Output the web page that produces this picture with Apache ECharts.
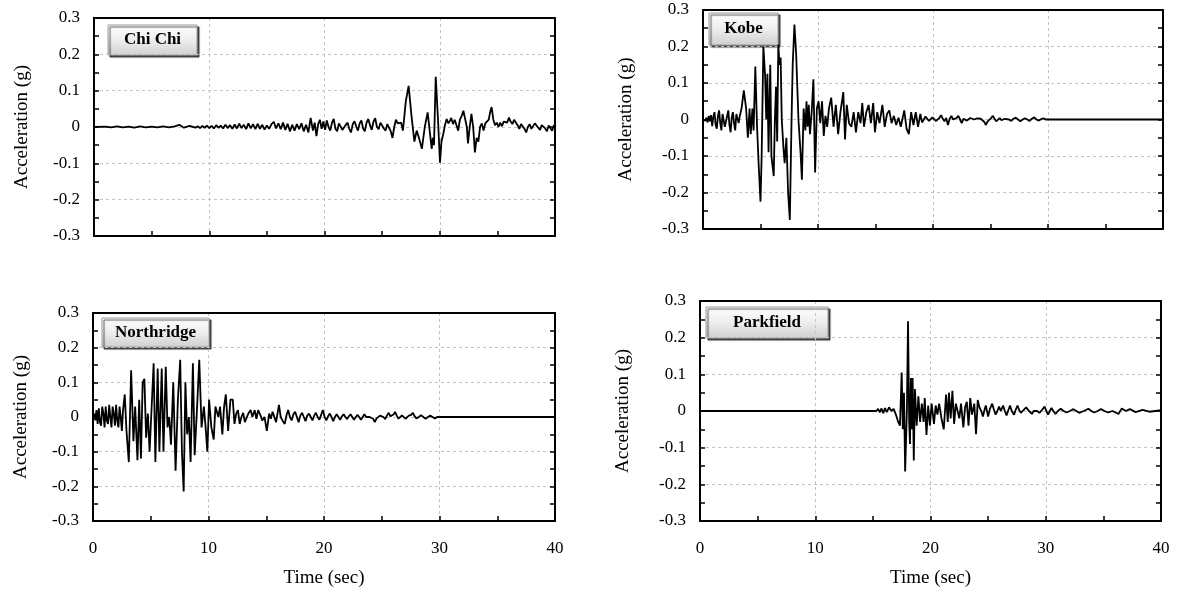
<!DOCTYPE html>
<html>
<head>
<meta charset="utf-8">
<script src="https://cdn.jsdelivr.net/npm/echarts@6/dist/echarts.min.js"></script>
<style>html,body{margin:0;padding:0;background:#fff}#c{width:1178px;height:593px}</style>
</head>
<body>
<div id="c"></div>
<script>
// ---------- DATA: [time (s), acceleration (g)] ----------
const titles = ['Chi Chi', 'Kobe', 'Northridge', 'Parkfield'];
const yTicks = [-0.3, -0.2, -0.1, 0, 0.1, 0.2, 0.3];
const xTicks = [0, 10, 20, 30, 40];

const chiChi = [[0,0],[1,0.001],[1.5,-0.001],[2,0.002],[2.5,-0.001],[3,0.001],[3.5,-0.002],[4,0.002],[4.5,-0.001],[5,0.001],[5.5,-0.001],[6,0.002],[6.5,-0.001],[7,0.002],[7.4,0.006],[7.8,-0.002],[8.3,0.003],[8.8,-0.002],
[9.0,0.002],[9.2,-0.003],[9.4,0.003],[9.6,-0.002],[9.8,0.004],[10.0,-0.003],[10.2,0.003],[10.4,-0.004],[10.6,0.005],[10.8,-0.002],[11.0,0.004],[11.2,-0.004],[11.4,0.006],[11.6,-0.003],[11.8,0.005],[12.0,-0.005],[12.2,0.007],[12.4,-0.004],[12.6,0.009],[12.8,-0.003],[13.0,0.006],[13.2,-0.006],[13.4,0.01],[13.6,-0.004],[13.8,0.008],[14.0,-0.006],[14.2,0.009],[14.4,-0.005],[14.6,0.006],[14.8,-0.007],[15.0,0.004],[15.2,-0.005],[15.4,0.008],[15.6,0.014],[15.8,-0.004],[16.0,0.01],[16.2,-0.006],[16.4,0.012],[16.6,-0.008],[16.8,0.009],[17.0,-0.012],[17.2,0.006],[17.4,-0.01],[17.6,0.008],[17.8,-0.006],[18.0,0.01],[18.2,-0.012],[18.4,0.006],[18.6,-0.015],[18.8,0.025],[19.0,-0.01],[19.15,0.012],[19.3,-0.025],[19.45,0.008],[19.6,0.02],[19.75,-0.005],[19.9,0.015],[20.05,-0.008],[20.2,0.018],[20.35,0.0],[20.5,-0.01],[20.65,0.012],[20.8,0.022],[20.95,-0.005],[21.1,-0.012],[21.25,0.01],[21.4,0.015],[21.55,-0.008],[21.7,-0.012],[21.85,0.006],[22.0,0.012],[22.15,-0.005],[22.3,-0.015],[22.45,0.008],[22.6,0.016],[22.75,0.002],[22.9,-0.01],[23.05,0.01],[23.2,0.018],[23.35,-0.004],[23.5,-0.012],[23.65,0.012],[23.8,0.022],[23.95,0.005],[24.1,-0.008],[24.25,0.015],[24.4,0.024],[24.55,0.0],[24.7,-0.006],[24.85,0.012],[25.0,0.015],[25.15,-0.004],[25.3,-0.01],[25.45,0.008],[25.6,0.01],[25.75,-0.012],[25.9,-0.03],[26.05,0.0],[26.2,0.02],[26.35,0.01],[26.5,0.005],[26.65,0.012],[26.8,-0.01],[26.9,0.02],
[27.05,0.07],[27.3,0.113],[27.55,0.03],[27.8,-0.04],[28.0,-0.01],[28.2,-0.03],[28.45,-0.06],[28.7,0.0],[28.95,0.04],[29.1,0.045],[29.3,-0.06],[29.4,-0.03],[29.5,-0.05],[29.65,0.138],[29.85,0.02],[30.02,-0.098],[30.15,-0.04],
[30.3,-0.02],[30.45,0.005],[30.6,0.022],[30.75,0.01],[30.9,0.018],[31.0,0.025],[31.15,0.008],[31.3,0.02],[31.45,0.005],[31.6,-0.01],[31.75,0.02],[31.9,0.03],[32.05,0.045],[32.2,0.05],[32.35,0.0],[32.45,-0.045],[32.6,0.0],[32.75,0.036],[32.9,0.0],[33.05,-0.07],[33.2,-0.03],[33.35,-0.04],[33.5,0.0],[33.65,0.01],[33.8,-0.01],[33.95,0.01],[34.1,0.005],[34.25,0.02],[34.4,0.045],[34.5,0.055],[34.65,0.02],[34.8,0.005],[34.95,0.012],[35.1,0.0],[35.25,0.012],[35.4,0.002],[35.55,0.015],[35.7,0.02],[35.85,0.012],[36.0,0.026],[36.15,0.015],[36.3,0.008],[36.45,0.02],[36.6,0.018],[36.75,0.005],[36.9,-0.005],[37.05,0.008],[37.2,0.01],[37.35,-0.005],[37.5,-0.015],[37.65,0.0],[37.8,0.008],[37.95,-0.005],[38.1,-0.01],[38.25,0.01],[38.4,0.012],[38.55,-0.002],[38.7,-0.008],[38.85,0.005],[39.0,0.01],[39.15,-0.004],[39.3,-0.012],[39.45,0.004],[39.6,0.008],[39.75,-0.01],[39.9,0.004],[40.0,0.005]];

const kobe = [[0,0],[0.1,0.002],[0.2,-0.003],[0.3,0.005],[0.4,-0.008],[0.5,0.01],[0.6,-0.005],[0.7,0.012],[0.8,-0.018],[0.9,0.008],[1.0,0.02],[1.1,-0.015],[1.2,-0.025],[1.3,0.01],[1.4,0.025],[1.5,-0.01],[1.6,-0.03],[1.7,0.015],[1.8,0.02],[1.9,-0.02],[2.0,-0.025],[2.1,0.01],[2.2,0.025],[2.3,-0.015],[2.4,-0.035],[2.5,0.005],[2.6,0.02],[2.7,-0.01],[2.8,-0.03],[2.9,0.015],[3.0,0.02],[3.1,-0.01],[3.2,0.01],
[3.35,0.03],[3.55,0.08],[3.75,0.03],[3.9,-0.05],[4.05,0.03],[4.15,-0.04],[4.3,0.03],[4.4,-0.03],[4.55,0.145],[4.7,-0.02],[4.85,-0.13],[5.0,-0.225],[5.1,-0.1],[5.25,0.2],[5.4,0.12],[5.5,0.0],[5.6,0.125],[5.7,-0.09],[5.85,0.15],[5.95,-0.1],[6.15,-0.155],[6.25,0.0],[6.35,0.09],[6.45,-0.06],[6.55,0.205],[6.65,0.15],[6.75,0.17],[6.85,0.0],[7.0,-0.08],[7.1,-0.12],[7.25,-0.05],[7.4,-0.2],[7.55,-0.275],[7.7,0.0],[7.8,0.15],[7.95,0.26],[8.1,0.18],[8.3,0.0],[8.5,-0.1],[8.6,-0.165],[8.75,0.03],[8.9,-0.03],[9.0,0.05],[9.1,-0.02],[9.2,0.04],[9.3,-0.04],[9.45,0.02],[9.6,0.11],[9.75,-0.145],[9.9,0.03],[10.05,0.05],[10.2,-0.01],[10.35,0.05],[10.5,-0.045],[10.65,0.01],[10.8,-0.02],[10.95,0.03],[11.15,0.06],[11.35,-0.02],[11.55,0.04],[11.75,-0.04],[11.95,0.02],[12.2,0.075],[12.35,-0.055],[12.5,0.04],[12.7,-0.01],[12.9,-0.02],[13.1,0.02],[13.3,-0.035],[13.5,0.02],[13.7,-0.01],[13.85,0.045],[14.0,-0.02],[14.2,0.02],[14.4,0.04],[14.6,-0.01],[14.8,0.045],[14.95,-0.035],[15.15,0.02],[15.35,-0.01],[15.6,0.04],[15.8,-0.02],[16.0,0.015],[16.2,0.025],[16.4,-0.01],[16.6,0.01],[16.8,-0.015],[17.0,0.005],[17.2,-0.02],[17.5,0.025],[17.7,-0.025],[17.9,-0.04],[18.1,0.02],[18.3,-0.015],[18.5,0.02],[18.7,-0.02],[18.9,0.015],[19.05,-0.008],[19.2,-0.005],[19.35,0.008],[19.5,0.01],[19.65,-0.004],[19.8,-0.005],[19.95,0.006],[20.1,0.005],[20.25,-0.004],[20.4,-0.008],[20.55,0.004],[20.7,0.012],[20.85,0.002],[21.0,-0.005],[21.15,0.004],[21.3,-0.015],[21.45,0.002],[21.6,0.01],[21.75,0.0],[21.9,-0.005],[22.05,0.004],[22.2,0.01],[22.35,0.0],[22.5,-0.01],[22.65,0.002],[22.8,0.005],[22.95,-0.003],[23.1,0.0],[23.25,0.004],[23.4,0.008],[23.55,0.0],[23.7,-0.004],[23.85,0.003],[24.0,0.008],[24.15,0.002],[24.3,0.0],[24.45,-0.006],[24.6,-0.015],[24.75,-0.005],[24.9,0.0],[25.05,0.004],[25.2,0.01],[25.35,0.002],[25.5,-0.005],[25.65,0.0],[25.8,0.004],[25.95,-0.002],[26.1,-0.005],[26.25,0.002],[26.4,0.005],[26.6,0.0],[26.8,-0.004],[27.0,0.002],[27.2,0.005],[27.4,0.0],[27.6,-0.005],[27.8,0.0],[28.0,0.003],[28.2,0.0],[28.4,-0.004],[28.6,0.002],[28.8,0.006],[29.0,0.0],[29.2,-0.003],[29.4,0.001],[29.6,0.003],[29.8,0.0],[30.0,0.0],[40,0]];

const northridge = [[0,0],[0.1,0.01],[0.2,-0.01],[0.3,0.02],[0.4,-0.02],[0.5,0.025],[0.6,-0.015],[0.7,-0.025],[0.8,0.03],[0.9,0.01],[1.0,-0.03],[1.1,0.03],[1.2,-0.01],[1.3,-0.02],[1.4,0.035],[1.5,0.0],[1.6,-0.03],[1.7,0.03],[1.8,0.01],[1.9,-0.025],[2.0,0.035],[2.1,-0.01],[2.2,-0.03],[2.3,0.03],[2.4,0.0],[2.5,-0.04],[2.6,0.02],
[2.75,0.065],[2.9,-0.04],[3.1,-0.13],[3.3,0.135],[3.5,-0.07],[3.65,0.03],[3.85,-0.125],[4.0,0.05],[4.15,-0.12],[4.3,0.1],[4.45,0.11],[4.6,-0.06],[4.75,0.01],[4.9,-0.1],[5.25,0.155],[5.4,-0.13],[5.6,0.14],[5.75,-0.1],[5.95,0.14],[6.1,-0.1],[6.3,0.145],[6.45,-0.03],[6.6,0.0],[6.75,-0.08],[6.95,0.1],[7.15,-0.155],[7.35,0.05],[7.55,0.165],[7.7,-0.1],[7.85,-0.215],[8.0,0.1],[8.15,-0.05],[8.3,0.0],[8.45,-0.13],[8.65,0.155],[8.8,-0.11],[9.0,0.02],[9.2,0.165],[9.4,-0.03],[9.6,0.03],[9.75,-0.03],[9.9,-0.1],[10.05,0.05],[10.25,-0.03],[10.45,-0.065],[10.6,0.03],[10.85,0.0],[11.0,0.03],[11.2,-0.05],[11.35,0.03],[11.5,0.065],[11.7,-0.04],[11.9,0.05],[12.1,0.05],[12.25,-0.02],[12.4,0.01],[12.55,0.02],[12.7,-0.02],[12.85,0.0],[13.0,0.012],[13.15,-0.015],[13.3,-0.01],[13.45,0.01],[13.65,0.02],[13.8,0.0],[14.0,0.02],[14.15,-0.005],[14.3,0.02],[14.5,0.005],[14.65,-0.01],[14.85,0.0],[15.05,-0.04],[15.25,0.01],[15.4,-0.005],[15.55,0.015],[15.7,0.0],[15.85,-0.015],[16.1,0.035],[16.25,0.0],[16.4,-0.01],[16.6,-0.02],[16.75,0.005],[16.9,0.02],[17.05,0.0],[17.2,-0.01],[17.35,0.008],[17.5,0.015],[17.65,0.0],[17.8,-0.015],[17.95,0.004],[18.1,0.012],[18.25,0.0],[18.4,-0.012],[18.55,0.004],[18.7,0.01],[18.85,0.0],[19.0,-0.01],[19.15,0.004],[19.3,0.012],[19.45,0.0],[19.6,-0.008],[19.75,0.006],[19.9,0.02],[20.05,0.0],[20.2,-0.01],[20.35,0.002],[20.5,0.01],[20.65,0.0],[20.8,-0.012],[20.95,0.0],[21.1,0.008],[21.25,0.0],[21.4,-0.008],[21.55,0.002],[21.7,0.008],[21.85,0.0],[22.0,-0.006],[22.15,0.002],[22.3,0.008],[22.45,0.0],[22.6,-0.008],[22.75,0.0],[22.9,0.006],[23.05,0.0],[23.2,-0.008],[23.35,0.0],[23.5,0.008],[23.65,0.0],[23.8,-0.005],[23.95,0.0],[24.1,0.005],[24.25,-0.005],[24.4,-0.015],[24.55,-0.004],[24.7,0.0],[24.85,0.004],[25.0,0.008],[25.15,0.0],[25.3,-0.006],[25.45,0.004],[25.6,0.012],[25.75,0.002],[25.9,0.0],[26.05,0.008],[26.15,0.015],[26.3,0.004],[26.45,-0.005],[26.6,0.0],[26.75,0.005],[26.9,0.0],[27.05,-0.005],[27.2,0.0],[27.35,0.004],[27.55,0.006],[27.7,0.012],[27.85,0.002],[28.0,-0.004],[28.2,0.0],[28.4,0.005],[28.6,0.0],[28.8,-0.005],[29.0,0.0],[29.2,0.004],[29.4,0.0],[29.6,-0.004],[29.8,0.0],[30.0,0.0],[40,0]];

const parkfield = [[0,0],[15.3,0],[15.45,0.006],[15.6,-0.004],[15.75,0.007],[15.9,-0.006],[16.05,0.008],[16.2,-0.003],[16.4,0.01],[16.6,0.0],[16.8,0.006],[17.0,-0.01],[17.2,-0.03],[17.35,-0.04],[17.5,0.105],[17.6,-0.05],[17.7,0.05],[17.8,-0.165],[17.95,0.0],[18.05,0.245],[18.15,-0.03],[18.22,-0.09],[18.3,0.09],[18.38,-0.05],[18.45,0.09],[18.55,-0.135],[18.65,0.06],[18.8,-0.04],[18.95,0.04],[19.1,-0.03],[19.25,0.02],[19.4,-0.03],[19.5,0.035],[19.65,-0.065],[19.8,0.015],[19.95,-0.04],[20.1,0.02],[20.3,-0.035],[20.45,0.015],[20.6,-0.01],[20.75,0.02],[20.95,-0.02],[21.15,-0.05],[21.35,0.045],[21.5,-0.03],[21.6,0.05],[21.75,-0.02],[21.9,0.055],[22.05,-0.035],[22.2,0.02],[22.35,0.02],[22.5,-0.02],[22.65,0.02],[22.85,-0.045],[23.0,0.01],[23.15,0.025],[23.3,-0.04],[23.45,0.035],[23.6,-0.01],[23.8,0.02],[23.95,-0.063],[24.1,0.03],[24.25,0.01],[24.4,0.0],[24.55,-0.015],[24.7,0.005],[24.8,0.015],[24.9,0.0],[25.0,-0.015],[25.15,0.005],[25.35,0.02],[25.5,0.004],[25.65,-0.01],[25.8,0.0],[25.95,0.012],[26.1,0.0],[26.3,0.015],[26.45,0.0],[26.6,-0.012],[26.75,0.002],[26.9,0.015],[27.05,0.0],[27.25,-0.01],[27.4,0.004],[27.55,0.015],[27.7,0.002],[27.85,-0.005],[28.05,0.002],[28.3,0.01],[28.55,0.0],[28.8,-0.008],[28.95,0.0],[29.1,0.005],[29.25,0.0],[29.45,-0.005],[29.65,0.002],[29.9,0.012],[30.05,0.0],[30.2,-0.01],[30.35,0.0],[30.5,0.008],[30.65,0.0],[30.85,-0.008],[31.05,0.0],[31.3,0.006],[31.55,0.0],[31.8,-0.004],[32.1,0.0],[32.4,0.005],[32.65,0.0],[32.9,-0.005],[33.3,0.0],[33.7,0.006],[33.95,0.0],[34.2,-0.004],[34.5,0.0],[34.8,0.005],[35.1,0.0],[35.4,-0.004],[35.8,0.0],[36.3,-0.008],[36.6,0.007],[36.95,0.0],[37.3,0.005],[37.8,-0.003],[38.4,0.003],[39.0,-0.002],[40.0,0.002]];

const seriesData = [chiChi, kobe, northridge, parkfield];

// ---------- LAYOUT ----------
const grids = [
  {left: 94, top: 18, width: 461, height: 218},
  {left: 703, top: 10, width: 460, height: 219},
  {left: 93, top: 313, width: 462, height: 208},
  {left: 700, top: 301, width: 461, height: 220}
];
const boxes = [
  {x: 108, y: 25, w: 89, h: 30},
  {x: 709, y: 13, w: 69, h: 32},
  {x: 102, y: 318, w: 107, h: 29},
  {x: 706, y: 307, w: 122, h: 31}
];
const showX = [false, false, true, true];
const yNameGap = [62, 67, 62, 67];
const FONT = '"Liberation Serif", "Times New Roman", serif';

const chart = echarts.init(document.getElementById('c'), null, {renderer: 'canvas'});
const tickStyle = {color: '#000', width: 1.5};
const frameLine = {show: true, onZero: false, lineStyle: {color: '#000', width: 2}};
const gridLine = {show: true, lineStyle: {color: '#c4c4c4', type: [3, 3], width: 1}};

const option = {
  animation: false,
  backgroundColor: '#fff',
  grid: grids.map(g => Object.assign({show: false}, g)),
  xAxis: [], yAxis: [], series: [], graphic: []
};

grids.forEach((g, i) => {
  option.xAxis.push({
    type: 'value', gridIndex: i, position: 'bottom', min: xTicks[0], max: xTicks[xTicks.length - 1], interval: 10,
    axisLine: frameLine,
    axisTick: {show: true, inside: true, length: 5, lineStyle: tickStyle},
    minorTick: {show: true, splitNumber: 2, length: 5, lineStyle: tickStyle},
    splitLine: gridLine,
    axisLabel: {show: showX[i], color: '#000', fontFamily: FONT, fontSize: 17, margin: 19},
    name: showX[i] ? 'Time (sec)' : '',
    nameLocation: 'middle', nameGap: 48,
    nameTextStyle: {color: '#000', fontFamily: FONT, fontSize: 19}
  });
  option.xAxis.push({
    type: 'value', gridIndex: i, position: 'top', min: xTicks[0], max: xTicks[xTicks.length - 1], interval: 10,
    axisLine: frameLine, axisTick: {show: false}, minorTick: {show: false},
    splitLine: {show: false}, axisLabel: {show: false}
  });
  option.yAxis.push({
    type: 'value', gridIndex: i, position: 'left', min: yTicks[0], max: yTicks[yTicks.length - 1], interval: 0.1,
    axisLine: frameLine,
    axisTick: {show: true, inside: true, length: 5, lineStyle: tickStyle},
    minorTick: {show: true, splitNumber: 2, length: 5, lineStyle: tickStyle},
    splitLine: gridLine,
    axisLabel: {color: '#000', fontFamily: FONT, fontSize: 17, margin: 14},
    name: 'Acceleration (g)', nameLocation: 'middle', nameRotate: 90, nameGap: yNameGap[i],
    nameTextStyle: {color: '#000', fontFamily: FONT, fontSize: 19}
  });
  option.yAxis.push({
    type: 'value', gridIndex: i, position: 'right', min: yTicks[0], max: yTicks[yTicks.length - 1], interval: 0.1,
    axisLine: frameLine,
    axisTick: {show: true, inside: true, length: 5, lineStyle: tickStyle},
    minorTick: {show: true, splitNumber: 2, length: 5, lineStyle: tickStyle},
    splitLine: {show: false},
    axisLabel: {show: false}
  });
  option.series.push({
    type: 'line', name: titles[i], xAxisIndex: i * 2, yAxisIndex: i * 2,
    data: seriesData[i],
    showSymbol: false, symbol: 'none', clip: true,
    lineStyle: {color: '#000', width: 1.8}, z: 5
  });
  const b = boxes[i];
  option.graphic.push({
    type: 'group', x: b.x, y: b.y, z: 100,
    children: [
      {type: 'rect', shape: {x: 0, y: 0, width: b.w, height: b.h},
       style: {fill: {type: 'linear', x: 0, y: 0, x2: 0, y2: 1, colorStops: [
         {offset: 0, color: '#ffffff'}, {offset: 0.5, color: '#eeeeee'}, {offset: 1, color: '#cfcfcf'}]},
         stroke: '#9a9a9a', lineWidth: 1,
         shadowColor: 'rgba(0,0,0,0.65)', shadowOffsetX: 2, shadowOffsetY: 2, shadowBlur: 1}},
      {type: 'text', x: b.w / 2, y: b.h / 2,
       style: {text: titles[i], fill: '#000', font: 'bold 17px ' + FONT, textAlign: 'center', textVerticalAlign: 'middle'}}
    ]
  });
});

chart.setOption(option);
</script>
</body>
</html>
